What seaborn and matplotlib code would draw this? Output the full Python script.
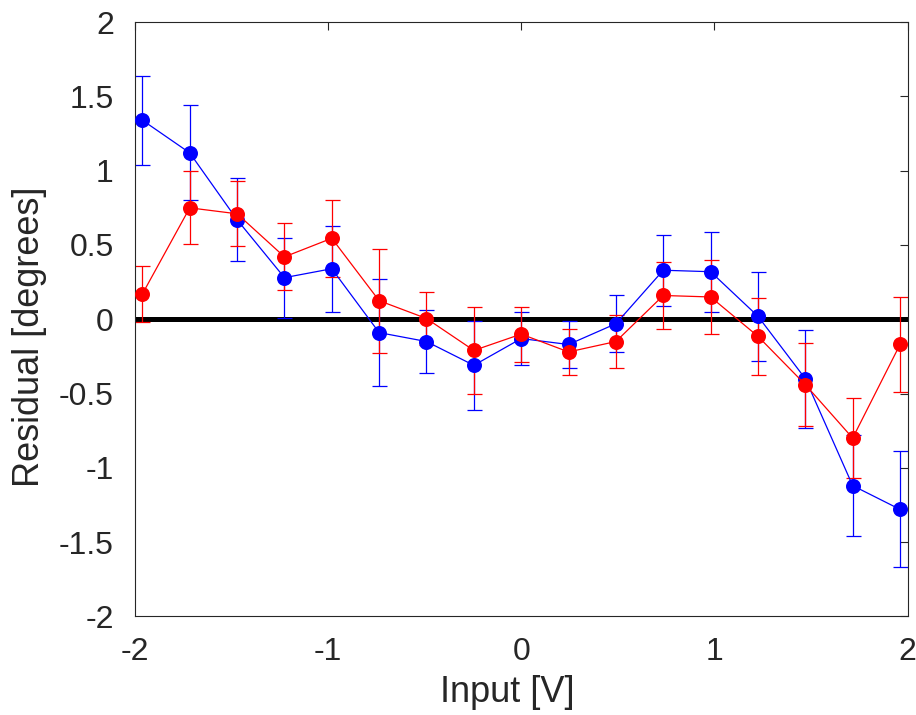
import numpy as np
import pandas as pd
import matplotlib
matplotlib.use("Agg")
import matplotlib.pyplot as plt
import seaborn as sns

# input voltages
x_vals = [-1.96, -1.715, -1.47, -1.225, -0.98, -0.735, -0.49, -0.245, 0.0,
          0.245, 0.49, 0.735, 0.98, 1.225, 1.47, 1.715, 1.96]

# blue series
blue_y = [1.34, 1.12, 0.67, 0.28, 0.34, -0.09, -0.15, -0.31, -0.13,
          -0.17, -0.03, 0.33, 0.32, 0.02, -0.40, -1.12, -1.28]
blue_err = [0.30, 0.32, 0.28, 0.27, 0.29, 0.36, 0.21, 0.30, 0.18,
            0.155, 0.19, 0.24, 0.27, 0.30, 0.33, 0.34, 0.39]

# red series
red_y = [0.17, 0.75, 0.71, 0.42, 0.545, 0.125, 0.005, -0.21, -0.10,
         -0.22, -0.15, 0.16, 0.15, -0.115, -0.44, -0.80, -0.17]
red_err = [0.19, 0.245, 0.22, 0.225, 0.26, 0.35, 0.18, 0.29, 0.185,
           0.155, 0.18, 0.225, 0.25, 0.26, 0.28, 0.27, 0.32]

df = pd.DataFrame({"x": x_vals, "blue": blue_y, "red": red_y})

sns.set_style("white")
plt.rcParams["font.family"] = ["Liberation Sans", "DejaVu Sans"]

fig = plt.figure(figsize=(9.16, 7.15), dpi=100)
ax = fig.add_axes([0.147, 0.138, 0.844, 0.831])

ax.axhline(0, color="black", lw=3.6, zorder=1)

for col, err, c in [("blue", blue_err, "#0000ff"), ("red", red_err, "#ff0000")]:
    ax.errorbar(df["x"], df[col], yerr=err, fmt="none", ecolor=c,
                elinewidth=0.9, capsize=5.4, capthick=0.9, zorder=2)
    sns.lineplot(data=df, x="x", y=col, ax=ax, color=c, lw=0.9,
                 marker="o", markersize=10.8, markeredgewidth=0,
                 zorder=3)

ax.set_xlim(-2, 2)
ax.set_ylim(-2, 2)
ax.set_xticks([-2, -1, 0, 1, 2])
ax.set_xticklabels(["-2", "-1", "0", "1", "2"])
ax.set_yticks([-2, -1.5, -1, -0.5, 0, 0.5, 1, 1.5, 2])
ax.set_yticklabels(["-2", "-1.5", "-1", "-0.5", "0", "0.5", "1", "1.5", "2"])

ax.tick_params(direction="in", length=6, width=0.8, colors="#262626",
               labelsize=23, top=True, right=True, pad=15)
for lbl in ax.get_xticklabels() + ax.get_yticklabels():
    lbl.set_color("#262626")
for s in ax.spines.values():
    s.set_color("#262626")
    s.set_linewidth(0.8)

ax.set_xlabel("Input [V]", fontsize=26, color="#262626")
ax.set_ylabel("Residual [degrees]", fontsize=26, color="#262626")
ax.xaxis.set_label_coords(0.4825, -0.098)
ax.yaxis.set_label_coords(-0.114, 0.47)

fig.savefig("out.png", dpi=100)
